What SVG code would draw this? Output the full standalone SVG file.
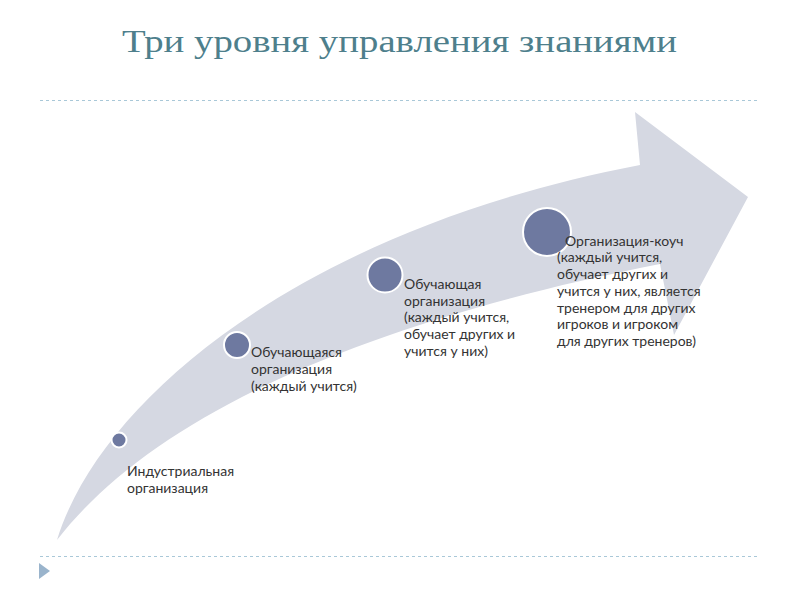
<svg xmlns="http://www.w3.org/2000/svg" width="800" height="600" viewBox="0 0 800 600">
<style>
.title{font-family:"Liberation Serif","DejaVu Serif",serif;font-size:32px;fill:#4e7f8c}
.lbl{font-family:Lato,"Open Sans","Liberation Sans",sans-serif;font-size:14px;fill:#333333}
.dot{fill:#6e79a0;stroke:#ffffff;stroke-width:2}
.rule{stroke:#a9c8d8;stroke-width:1;stroke-dasharray:3 3;fill:none}
</style>
<rect width="800" height="600" fill="#ffffff"/>
<text class="title" x="122" y="52" textLength="555" lengthAdjust="spacingAndGlyphs">Три уровня управления знаниями</text>
<line class="rule" x1="40" y1="100.5" x2="760" y2="100.5"/>
<line class="rule" x1="40" y1="556.5" x2="760" y2="556.5"/>
<polygon points="39,563 50,571 39,579" fill="#9ab4cc"/>
<g id="connectors">
<path id="arrow" d="M57,540 C100,400 300,230 640,165 L635,112 L748,197 L674,335 L660,264 C350,325 150,420 57,540 Z" fill="#d5d8e2"/>
</g>
<g id="n1">
<circle class="dot" cx="119" cy="440" r="7.5"/>
<text class="lbl" x="127" y="476">Индустриальная</text>
<text class="lbl" x="127" y="493">организация</text>
</g>
<g id="n2">
<circle class="dot" cx="237" cy="345" r="13"/>
<text class="lbl" x="251" y="357">Обучающаяся</text>
<text class="lbl" x="251" y="374">организация</text>
<text class="lbl" x="251" y="391">(каждый учится)</text>
</g>
<g id="n3">
<circle class="dot" cx="385" cy="275" r="17.5"/>
<text class="lbl" x="404" y="289">Обучающая</text>
<text class="lbl" x="404" y="306">организация</text>
<text class="lbl" x="404" y="322">(каждый учится,</text>
<text class="lbl" x="404" y="339">обучает других и</text>
<text class="lbl" x="404" y="356">учится у них)</text>
</g>
<g id="n4">
<circle class="dot" cx="547" cy="232" r="24"/>
<text class="lbl" x="565" y="246">Организация-коуч</text>
<text class="lbl" x="557" y="262">(каждый учится,</text>
<text class="lbl" x="557" y="279">обучает других и</text>
<text class="lbl" x="557" y="296">учится у них, является</text>
<text class="lbl" x="557" y="313">тренером для других</text>
<text class="lbl" x="557" y="329">игроков и игроком</text>
<text class="lbl" x="557" y="346">для других тренеров)</text>
</g>
</svg>
